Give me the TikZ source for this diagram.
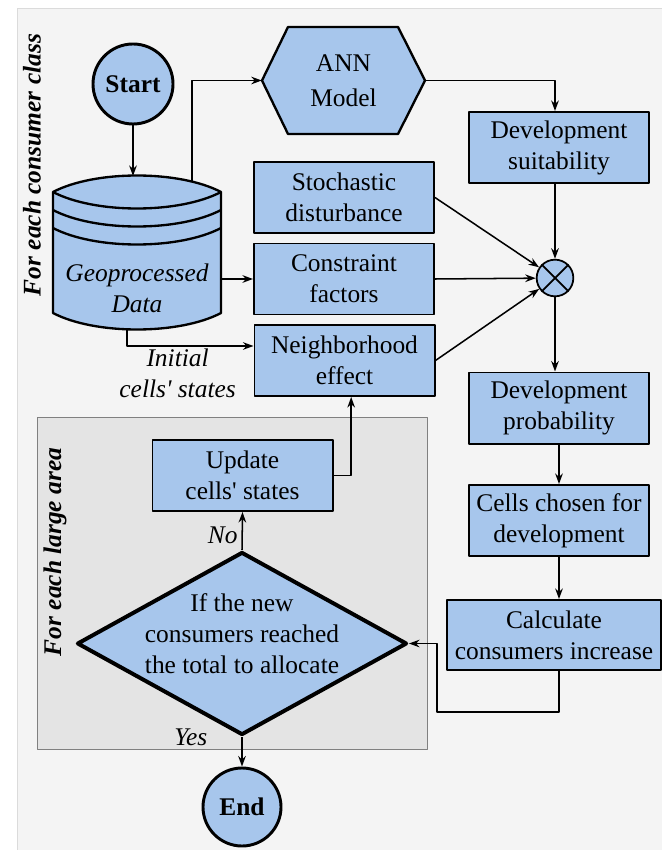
\documentclass[tikz,border=0pt]{standalone}
\usepackage{fontspec}
\setmainfont{Liberation Serif}
\usetikzlibrary{shapes.geometric,arrows.meta}
\definecolor{boxblue}{RGB}{167,198,236}
\definecolor{pagegray}{RGB}{244,244,244}
\definecolor{loopgray}{RGB}{228,228,228}
\newcommand\mainsize{\fontsize{21.7}{26.5}\selectfont}
\newcommand\apos{\textquotesingle}
\tikzset{
 block/.style={draw, line width=1.7pt, fill=boxblue, minimum width=5.4cm, minimum height=2.13cm, align=center, inner sep=1pt},
 terminal/.style={draw, circle, line width=2.5pt, fill=boxblue, minimum size=2.4cm, inner sep=0pt, font=\mainsize\bfseries},
 decision/.style={draw, diamond, line width=3.4pt, fill=boxblue, minimum width=9.9cm, minimum height=5.49cm, inner sep=0pt},
 link/.style={line width=1.3pt},
 note/.style={font=\mainsize\itshape},
 looplabel/.style={rotate=90, font=\mainsize\bfseries\itshape},
}
\begin{document}
\begin{tikzpicture}[x=0.03cm, y=-0.03cm, font=\mainsize, line join=round, >={Stealth[length=9pt,width=6.5pt]}]
 \useasboundingbox (0,0) rectangle (662,850);
 \fill[pagegray] (17,8) rectangle (662,850);
 \draw[black!14, line width=0.8pt] (17,850)--(17,8)--(662,8);
 \node[looplabel] at (32,165) {For each consumer class};
 % loop over the large areas
 \filldraw[fill=loopgray, draw=black!50, line width=0.8pt] (37,417) rectangle (427,749);
 \node[looplabel] at (55,552) {For each large area};
 % data cylinder
 \filldraw[fill=boxblue, line width=2pt] (53,192) .. controls (95,170) and (179,170) .. (221,192) -- (221,313) .. controls (179,335) and (95,335) .. (53,313) -- cycle;
 \foreach \y in {192,210,228} \draw[line width=2pt] (53,\y) .. controls (95,\y+22) and (179,\y+22) .. (221,\y);
 \node[note, align=center] (data) at (137,288) {Geoprocessed\\Data};
 \coordinate (dbTop) at (133,176);
 \coordinate (dbN) at (192,181);
 \coordinate (dbE) at (221,279);
 \coordinate (dbS) at (127,330);
 % ANN hexagon
 \filldraw[fill=boxblue, line width=2pt] (262,80.5)--(288,27)--(398,27)--(425,80.5)--(398,134)--(288,134)--cycle;
 \node[align=center, minimum width=4.89cm, minimum height=3.2cm, inner sep=0pt] (ann) at (343.5,80.5) {ANN\\[3.5pt]Model};
 \node[terminal] (start) at (133,84) {Start};
 \node[block] (suit) at (559,147.5) {Development\\suitability};
 \node[block] (stoch) at (344,197.5) {Stochastic\\disturbance};
 \node[block] (constr) at (344,279) {Constraint\\factors};
 \node[block] (neigh) at (344.5,360.5) {Neighborhood\\effect};
 \node[draw, circle, fill=boxblue, line width=1.5pt, minimum size=1.1cm, inner sep=0pt] (mult) at (555,278) {};
 \draw[line width=1.5pt] (mult.north west)--(mult.south east) (mult.north east)--(mult.south west);
 \node[block] (prob) at (559,408) {Development\\probability};
 \node[block] (cells) at (559,520.5) {Cells chosen for\\development};
 \node[block, minimum width=6.42cm, minimum height=2.1cm] (calc) at (554,635) {Calculate\\consumers increase};
 \node[block] (update) at (242.5,475.5) {Update\\cells\apos{} states};
 \node[decision, label={[align=center, yshift=0.3cm]center:If the new\\consumers reached\\the total to allocate}] (check) at (242,643.5) {};
 \node[terminal, minimum size=2.34cm] (end) at (242,807) {End};
 % connectors
 \draw[link,->] (start) -- (dbTop);
 \draw[link,->] (dbN) |- (ann.west);
 \draw[link,->] (ann.east) -| (suit.north -| mult);
 \draw[link,->] (dbE) -- (constr.west);
 \draw[link,->] (dbS) |- node[note, pos=0.7, below=0pt, align=center, inner sep=2pt] {Initial\\cells\apos{} states} ([yshift=0.435cm]neigh.west);
 \draw[link,->] (suit.south -| mult) -- (mult);
 \foreach \n in {stoch,constr,neigh} \draw[link,->] (\n.east) -- (mult);
 \draw[link,->] (mult) -- (mult |- prob.north);
 \draw[link,->] (prob) -- (cells);
 \draw[link,->] (cells.south) -- (cells.south |- calc.north);
 \draw[link,->] (calc.south -| cells) -- ++(0,41) -| ([xshift=0.84cm]check.east) -- (check.east);
 \draw[link,->] (check.north) -- node[note, left, pos=0.4] {No} (update.south);
 \draw[link,->] (update.east) -| ([xshift=0.2cm]neigh.south);
 \draw[link,->] (check.south) -- node[note, pos=0, left=0.9cm] {Yes} (end);
\end{tikzpicture}
\end{document}
